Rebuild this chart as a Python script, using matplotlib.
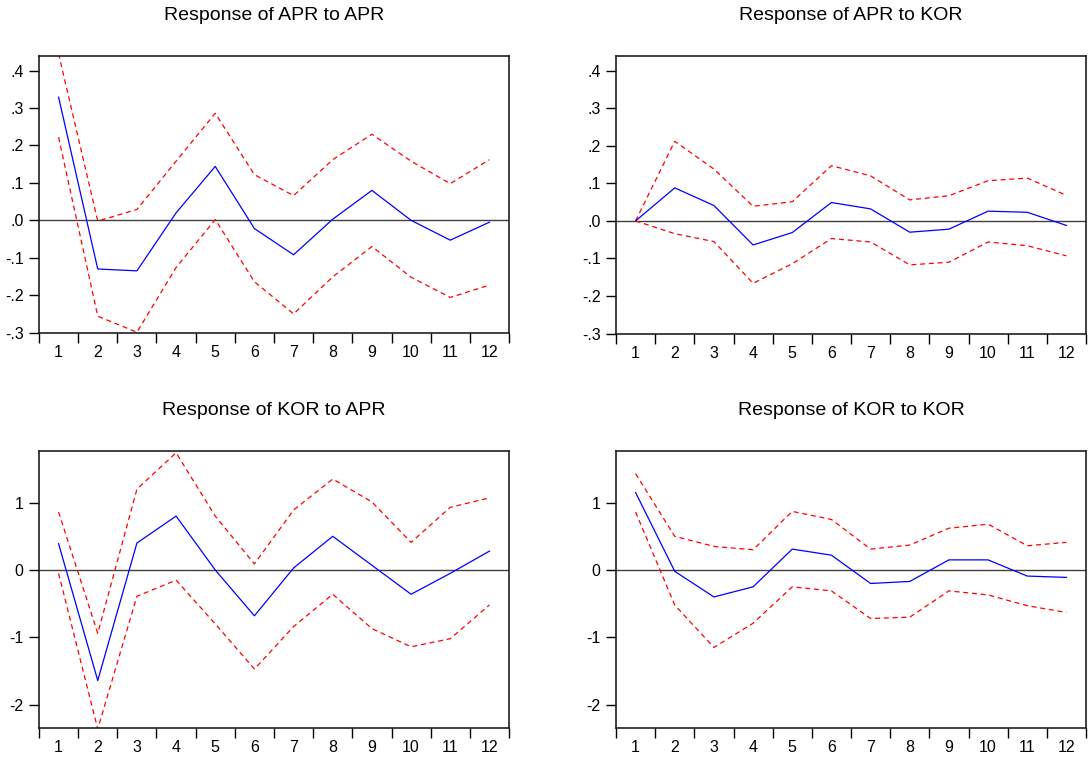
import numpy as np
import matplotlib
matplotlib.use("Agg")
import matplotlib.pyplot as plt
from matplotlib.ticker import FixedLocator, FuncFormatter, NullFormatter

plt.rcParams['font.family'] = ['Liberation Sans', 'DejaVu Sans']

periods = np.arange(1, 13)

# impulse responses (middle) with +/- 2 s.e. bands
apr_apr = [0.329, -0.130, -0.135, 0.020, 0.144, -0.022, -0.092, 0.003, 0.080, 0.000, -0.053, -0.005]
apr_apr_hi = [0.445, -0.002, 0.029, 0.158, 0.286, 0.122, 0.066, 0.162, 0.230, 0.158, 0.098, 0.162]
apr_apr_lo = [0.222, -0.256, -0.299, -0.126, 0.002, -0.164, -0.250, -0.151, -0.070, -0.152, -0.206, -0.173]

apr_kor = [0.000, 0.088, 0.041, -0.064, -0.031, 0.049, 0.032, -0.030, -0.022, 0.026, 0.023, -0.012]
apr_kor_hi = [0.000, 0.212, 0.138, 0.039, 0.051, 0.147, 0.120, 0.056, 0.067, 0.107, 0.114, 0.068]
apr_kor_lo = [0.000, -0.034, -0.055, -0.166, -0.114, -0.047, -0.056, -0.117, -0.110, -0.056, -0.066, -0.093]

kor_apr = [0.39, -1.64, 0.40, 0.80, 0.00, -0.68, 0.03, 0.50, 0.07, -0.36, -0.05, 0.28]
kor_apr_hi = [0.86, -0.94, 1.20, 1.74, 0.80, 0.09, 0.89, 1.35, 1.01, 0.41, 0.93, 1.07]
kor_apr_lo = [-0.05, -2.36, -0.39, -0.15, -0.80, -1.47, -0.84, -0.36, -0.87, -1.14, -1.02, -0.52]

kor_kor = [1.15, -0.02, -0.40, -0.25, 0.31, 0.22, -0.20, -0.17, 0.15, 0.15, -0.09, -0.11]
kor_kor_hi = [1.43, 0.50, 0.35, 0.30, 0.87, 0.75, 0.31, 0.37, 0.62, 0.68, 0.36, 0.41]
kor_kor_lo = [0.86, -0.52, -1.15, -0.79, -0.25, -0.31, -0.72, -0.70, -0.31, -0.37, -0.53, -0.63]

titles = ["Response of APR to APR", "Response of APR to KOR",
          "Response of KOR to APR", "Response of KOR to KOR"]
panels = [(apr_apr, apr_apr_hi, apr_apr_lo), (apr_kor, apr_kor_hi, apr_kor_lo),
          (kor_apr, kor_apr_hi, kor_apr_lo), (kor_kor, kor_kor_hi, kor_kor_lo)]

top_ticks = [-0.3, -0.2, -0.1, 0.0, 0.1, 0.2, 0.3, 0.4]
bottom_ticks = [-2, -1, 0, 1]


def eviews_fmt(v, pos):
    # EViews style: drop the leading zero (".3", "-.1")
    s = "%.1f" % v
    s = s.replace("0.", ".")
    if s == "-.0":
        s = ".0"
    return s


fig = plt.figure(figsize=(10.88, 7.58), dpi=100)
# axes boxes in figure fractions
boxes = [
    (39 / 1088, 1 - 333 / 758, 470 / 1088, 277 / 758),
    (616 / 1088, 1 - 334 / 758, 470 / 1088, 278 / 758),
    (39 / 1088, 1 - 728 / 758, 470 / 1088, 277 / 758),
    (616 / 1088, 1 - 728 / 758, 470 / 1088, 277 / 758),
]

for i, (box, title, (mid, hi, lo)) in enumerate(zip(boxes, titles, panels)):
    ax = fig.add_axes(box)
    ax.axhline(0, color='#404040', lw=1.0, zorder=1)
    ax.plot(periods, mid, color='#0000ff', lw=0.9, zorder=3)
    ax.plot(periods, hi, color='#ff0000', lw=0.9, ls=(0, (4, 3)), zorder=2)
    ax.plot(periods, lo, color='#ff0000', lw=0.9, ls=(0, (4, 3)), zorder=2)
    ax.set_xlim(0.5, 12.5)
    if i < 2:
        ax.set_ylim(-0.301, 0.439)
        ax.yaxis.set_major_locator(FixedLocator(top_ticks))
        ax.yaxis.set_major_formatter(FuncFormatter(eviews_fmt))
    else:
        ax.set_ylim(-2.345, 1.766)
        ax.yaxis.set_major_locator(FixedLocator(bottom_ticks))
        ax.yaxis.set_major_formatter(FuncFormatter(lambda v, p: "%d" % v))
    # period labels centred, separator ticks between periods
    ax.xaxis.set_major_locator(FixedLocator(np.arange(0.5, 13, 1.0)))
    ax.xaxis.set_major_formatter(NullFormatter())
    ax.xaxis.set_minor_locator(FixedLocator(periods))
    ax.xaxis.set_minor_formatter(FuncFormatter(lambda v, p: "%d" % v))
    ax.tick_params(axis='x', which='major', length=7, width=1, direction='out')
    ax.tick_params(axis='x', which='minor', length=0, pad=9, labelsize=11.5)
    ax.tick_params(axis='y', length=7, width=1, direction='out', pad=4, labelsize=11.5)
    for sp in ax.spines.values():
        sp.set_linewidth(1.2)
        sp.set_color('#202020')
    ax.set_title(title, fontsize=14, pad=26)

fig.savefig("out.png", dpi=100)
